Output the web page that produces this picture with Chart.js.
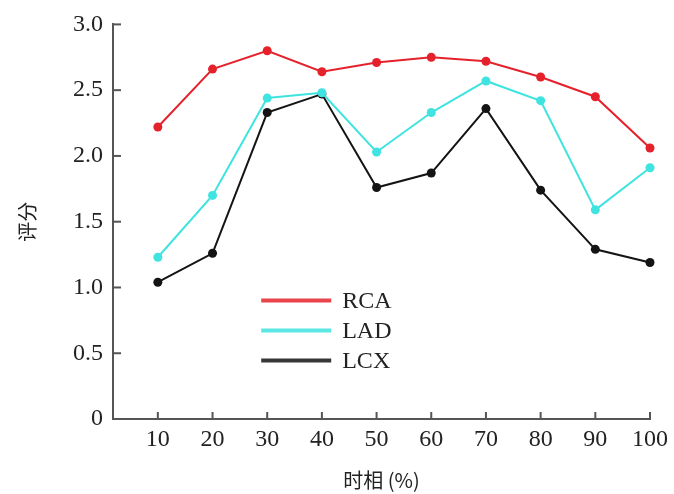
<!DOCTYPE html>
<html>
<head>
<meta charset="utf-8">
<script src="https://cdn.jsdelivr.net/npm/chart.js@4"></script>
<style>
  html, body { margin: 0; padding: 0; background: #fff; }
  #wrap { width: 674px; height: 494px; }
</style>
</head>
<body>
<div id="wrap"><canvas id="c" width="674" height="494"></canvas></div>
<script>
const phases = [10, 20, 30, 40, 50, 60, 70, 80, 90, 100];
const rca = [2.22, 2.66, 2.80, 2.64, 2.71, 2.75, 2.72, 2.60, 2.45, 2.06];
const lad = [1.23, 1.70, 2.44, 2.48, 2.03, 2.33, 2.57, 2.42, 1.59, 1.91];
const lcx = [1.04, 1.26, 2.33, 2.47, 1.76, 1.87, 2.36, 1.74, 1.29, 1.19];
const yTicks = [0, 0.5, 1.0, 1.5, 2.0, 2.5, 3.0];
const seriesNames = ['RCA', 'LAD', 'LCX'];
const seriesColors = ['#e5222b', '#3fe3e0', '#141414'];

const serif = '"Liberation Serif", "Times New Roman", serif';
const cjk = '"Noto Sans CJK SC", "Liberation Serif", serif';

function toPts(arr) { return phases.map((p, i) => ({ x: p, y: arr[i] })); }

const datasets = [rca, lad, lcx].map((arr, i) => ({
  label: seriesNames[i],
  data: toPts(arr),
  borderColor: seriesColors[i],
  backgroundColor: seriesColors[i],
  borderWidth: 2,
  pointRadius: 4.5,
  pointHoverRadius: 4.5,
  pointBorderWidth: 0,
  tension: 0,
  clip: false
}));

const innerTicks = {
  id: 'innerTicks',
  afterDraw(chart) {
    const ctx = chart.ctx;
    const xs = chart.scales.x, ys = chart.scales.y;
    ctx.save();
    ctx.strokeStyle = '#555';
    ctx.lineWidth = 2;
    ys.ticks.forEach(t => {
      const py = ys.getPixelForValue(t.value);
      ctx.beginPath();
      ctx.moveTo(xs.left, py);
      ctx.lineTo(xs.left + 8, py);
      ctx.stroke();
    });
    xs.ticks.forEach(t => {
      const px = xs.getPixelForValue(t.value);
      ctx.beginPath();
      ctx.moveTo(px, ys.bottom);
      ctx.lineTo(px, ys.bottom - 7);
      ctx.stroke();
    });
    ctx.restore();
  }
};

const innerLegend = {
  id: 'innerLegend',
  afterDraw(chart) {
    const ctx = chart.ctx;
    const a = chart.chartArea;
    const x0 = a.left + (a.right - a.left) * 0.276;
    const x1 = x0 + 70;
    const yStart = a.top + (a.bottom - a.top) * 0.7;
    const gap = 30;
    ctx.save();
    ctx.font = '24px ' + serif;
    ctx.textBaseline = 'middle';
    ctx.textAlign = 'left';
    chart.data.datasets.forEach((ds, i) => {
      const y = yStart + i * gap;
      ctx.strokeStyle = ds.borderColor;
      ctx.globalAlpha = 0.85;
      ctx.lineWidth = 4;
      ctx.beginPath();
      ctx.moveTo(x0, y);
      ctx.lineTo(x1, y);
      ctx.stroke();
      ctx.globalAlpha = 1;
      ctx.fillStyle = '#222';
      ctx.fillText(ds.label, x1 + 11, y + 1);
    });
    ctx.restore();
  }
};

new Chart(document.getElementById('c'), {
  type: 'line',
  data: { datasets },
  options: {
    responsive: false,
    animation: false,
    events: [],
    layout: { padding: { left: 0, right: 21, top: 19, bottom: 0 } },
    plugins: { legend: { display: false }, tooltip: { enabled: false } },
    scales: {
      x: {
        type: 'linear',
        min: 1.8,
        max: 100,
        afterBuildTicks(s) { s.ticks = phases.map(v => ({ value: v })); },
        afterFit(s) { s.height = 75; },
        grid: { display: true, drawOnChartArea: false, drawTicks: false },
        border: { display: true, color: '#555', width: 2 },
        ticks: {
          padding: 6,
          color: '#222',
          font: { family: serif, size: 24 },
          callback: v => String(v)
        },
        title: {
          display: true,
          text: '时相 (%)',
          color: '#222',
          font: { family: cjk, size: 20, lineHeight: 1 },
          padding: { top: 0, bottom: 4 }
        }
      },
      y: {
        type: 'linear',
        min: 0,
        max: 3,
        afterBuildTicks(s) { s.ticks = yTicks.map(v => ({ value: v })); },
        afterFit(s) { s.width = 113; },
        grid: { display: true, drawOnChartArea: false, drawTicks: false },
        border: { display: true, color: '#555', width: 2 },
        ticks: {
          padding: 10,
          color: '#222',
          font: { family: serif, size: 24 },
          callback: v => (v === 0 ? '0' : Number(v).toFixed(1))
        },
        title: {
          display: true,
          text: '评分',
          color: '#222',
          font: { family: cjk, size: 20, lineHeight: 1 },
          padding: { top: 17, bottom: 0 }
        }
      }
    }
  },
  plugins: [innerTicks, innerLegend]
});
</script>
</body>
</html>
